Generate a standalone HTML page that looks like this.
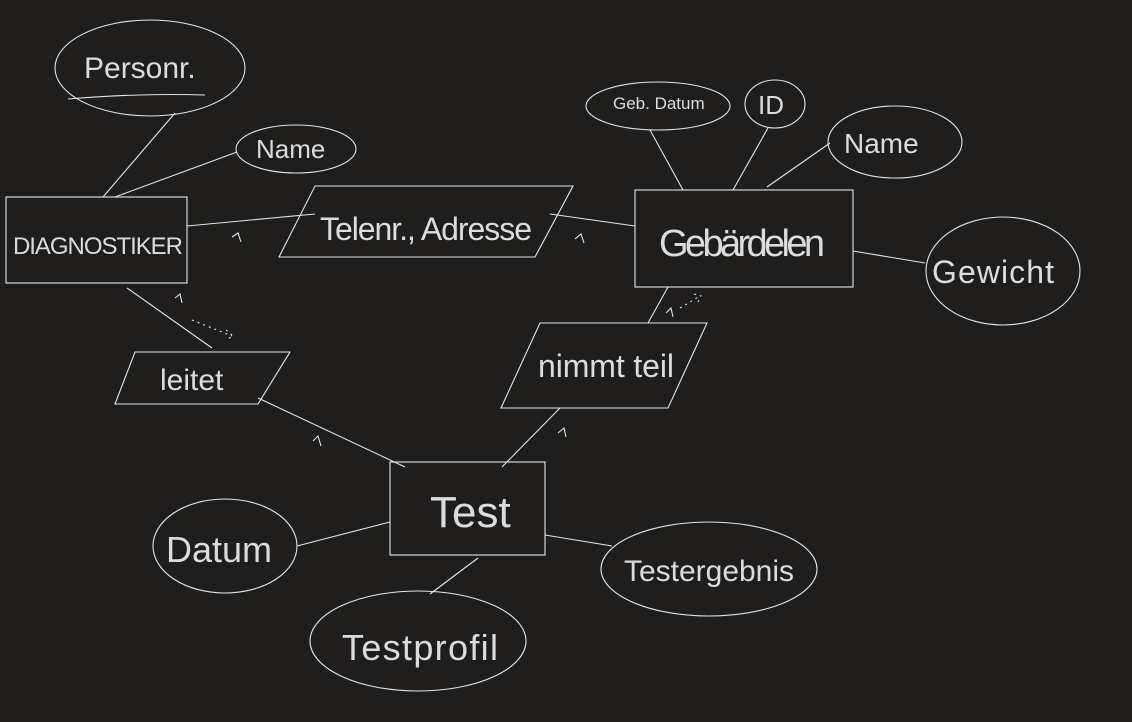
<!DOCTYPE html>
<html><head><meta charset="utf-8"><style>
html,body{margin:0;padding:0;background:#1f1e1d;}
svg{display:block}
text{font-family:"Liberation Sans",sans-serif;fill:#dcdcdc;}
</style></head><body>
<svg width="1132" height="722" viewBox="0 0 1132 722" xmlns="http://www.w3.org/2000/svg">
<rect width="1132" height="722" fill="#1f1e1d"/>
<g fill="none" stroke="#e6e6e6" stroke-width="1.1">
<ellipse cx="150" cy="68" rx="95" ry="48"/>
<ellipse cx="296" cy="149" rx="60" ry="24"/>
<rect x="6" y="197" width="181" height="86"/>
<polygon points="315,186 573,186 535,257 279,257"/>
<rect x="635" y="190" width="218" height="97"/>
<ellipse cx="658" cy="106" rx="72" ry="24"/>
<ellipse cx="775" cy="104" rx="30" ry="24"/>
<ellipse cx="895" cy="142" rx="67" ry="36"/>
<ellipse cx="1003" cy="271" rx="77" ry="54"/>
<polygon points="135,352 290,352 258,404 115,404"/>
<polygon points="540,323 707,323 668,408 501,408"/>
<rect x="390" y="462" width="155" height="93"/>
<ellipse cx="225" cy="546" rx="72" ry="47"/>
<ellipse cx="418" cy="641" rx="108" ry="50"/>
<ellipse cx="709" cy="569" rx="108" ry="47"/>
<path d="M175,113 L103,197 M237,152 L115,197 M187,226 L315,214 M550,214 L635,226 M650,130 L683,190 M768,128 L733,190 M830,143 L767,187 M853,251 L925,263 M127,288 L212,348 M258,398 L405,467 M560,408 L502,467 M668,287 L648,323 M390,522 L297,546 M478,558 L430,594 M545,535 L612,546"/>
<path d="M68,99 Q140,93 205,95"/>
<path d="M232,237 L238,233 L241,242 M575,239 L581,234 L584,243 M175,298 L180,294 L182,303 M313,441 L318,436 L321,446 M558,433 L564,428 L566,437 M666,313 L671,308 L673,317"/>
<path d="M192,320 L232,336 M226,330 L233,336 L226,340 M680,308 L700,296 M694,294 L701,296 L698,302" stroke-dasharray="2,4"/>
</g>
<text x="84" y="78" font-size="30">Personr.</text>
<text x="256" y="158" font-size="26">Name</text>
<text x="13" y="254" font-size="24" textLength="170">DIAGNOSTIKER</text>
<text x="320" y="240" font-size="32" textLength="212">Telenr., Adresse</text>
<text x="613" y="109" font-size="17">Geb. Datum</text>
<text x="758" y="114" font-size="26">ID</text>
<text x="844" y="153" font-size="28">Name</text>
<text x="659" y="256" font-size="38" textLength="166">Gebärdelen</text>
<text x="932" y="283" font-size="32" textLength="122">Gewicht</text>
<text x="160" y="390" font-size="30">leitet</text>
<text x="538" y="377" font-size="32" textLength="136">nimmt teil</text>
<text x="430" y="527" font-size="44">Test</text>
<text x="166" y="562" font-size="36">Datum</text>
<text x="342" y="660" font-size="36" textLength="156">Testprofil</text>
<text x="624" y="581" font-size="30" textLength="170">Testergebnis</text>
</svg>
</body></html>
